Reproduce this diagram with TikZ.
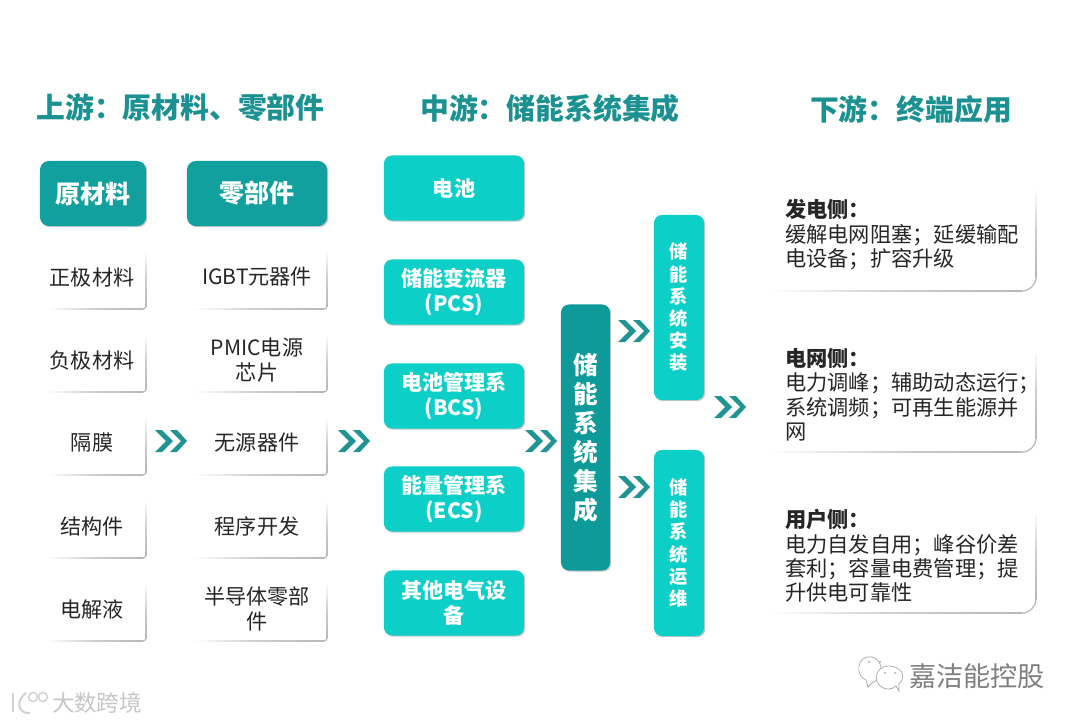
\documentclass[tikz,border=0pt]{standalone}
\usepackage{fontspec}
\setmainfont{Noto Sans CJK SC}
\usepackage{xcolor}
\usetikzlibrary{shadows}
\definecolor{titleteal}{HTML}{1C9191}
\definecolor{headteal}{HTML}{12A09E}
\definecolor{midcyan}{HTML}{0CCFC8}
\definecolor{coreteal}{HTML}{0F9A9A}
\definecolor{chevteal}{HTML}{1F9492}
\definecolor{edgegray}{HTML}{B8B8B8}
% corner x, corner y, height, width, radius
\newcommand{\cardcorner}[5]{
  \shade[top color=white,bottom color=edgegray,middle color=edgegray!70] (#1-0.6,#2-#3) rectangle (#1+0.6,#2-#5);
  \shade[left color=white,right color=edgegray,middle color=edgegray!70] (#1-#4,#2-0.6) rectangle (#1-#5,#2+0.6);
  \draw[edgegray,line width=0.85pt] (#1,#2-#5) .. controls (#1,#2-0.45*#5) and (#1-0.45*#5,#2) .. (#1-#5,#2);
}
\tikzset{
  boxshadow/.style={general shadow={shadow xshift=0.3mm,shadow yshift=-0.3mm,fill=black!30,opacity=0.7}},
  titletext/.style={text=titleteal,font=\fontsize{20.5}{24}\selectfont\bfseries,inner sep=0pt},
  headbox/.style={fill=headteal,text=white,rounded corners=2.2mm,boxshadow,font=\fontsize{17.8}{21}\selectfont\bfseries,minimum height=1.625cm},
  midbox/.style={fill=midcyan,text=white,rounded corners=2mm,boxshadow,font=\fontsize{15}{17.7}\selectfont\bfseries,minimum width=3.5cm,minimum height=1.625cm,align=center,inner sep=0pt},
  sidebox/.style={fill=midcyan,text=white,rounded corners=2mm,boxshadow,font=\fontsize{13}{15.8}\selectfont\bfseries,minimum width=1.25cm,align=center,inner sep=0pt},
  corebox/.style={fill=coreteal,text=white,rounded corners=2mm,boxshadow,font=\fontsize{17.5}{20.6}\selectfont\bfseries,minimum width=1.225cm,minimum height=6.65cm,align=center,inner sep=0pt},
  itemtext/.style={text=black!85,font=\fontsize{15}{17.5}\selectfont,align=center,inner sep=0pt},
  cardtext/.style={text=black!85,font=\fontsize{15.1}{17.4}\selectfont,align=left,inner sep=0pt,anchor=north west},
  stamp/.style={text=black!50,font=\fontsize{19.3}{22}\selectfont,inner sep=0pt},
  bubble/.style={draw=black!35,fill=white,line width=0.5pt},
  chevrons/.pic={
    \fill[chevteal] (-15,-11) -- (-8,-11) -- (3,0) -- (-8,11) -- (-15,11) -- (-4,0) -- cycle;
    \fill[chevteal] (0,-11) -- (7,-11) -- (17,0) -- (7,11) -- (0,11) -- (11,0) -- cycle;
  }
}
\begin{document}
\begin{tikzpicture}[x=0.025cm,y=-0.025cm]
\useasboundingbox (0,0) rectangle (1080,723);
\fill[white] (0,0) rectangle (1080,723);

\node[titletext] (titleup) at (180.5,108) {上游：原材料、零部件};
\node[titletext] (titlemid) at (550,109) {中游：储能系统集成};
\node[titletext] (titledown) at (911,109) {下游：终端应用};

\node[headbox,minimum width=2.65cm] (raw) at (93,193.5) {原材料};
\node[headbox,minimum width=3.5cm] (parts) at (257,193.5) {零部件};

\node[itemtext] (raw1) at (92,277) {正极材料};
\cardcorner{146}{309}{59}{100}{3}
\node[itemtext] (raw2) at (92,360) {负极材料};
\cardcorner{146}{392}{58}{100}{3}
\node[itemtext] (raw3) at (92,443) {隔膜};
\cardcorner{146}{475}{58}{100}{3}
\node[itemtext] (raw4) at (92,526) {结构件};
\cardcorner{146}{558}{58}{100}{3}
\node[itemtext] (raw5) at (92,609) {电解液};
\cardcorner{146}{641}{58}{100}{3}

\node[itemtext] (part1) at (257,277) {IGBT元器件};
\cardcorner{327}{309}{59}{135}{3}
\node[itemtext] (part2) at (257,360) {PMIC电源\\芯片};
\cardcorner{327}{392}{58}{135}{3}
\node[itemtext] (part3) at (257,443) {无源器件};
\cardcorner{327}{475}{58}{135}{3}
\node[itemtext] (part4) at (257,526) {程序开发};
\cardcorner{327}{558}{58}{135}{3}
\node[itemtext] (part5) at (257,609) {半导体零部\\件};
\cardcorner{327}{641}{58}{135}{3}

\node[midbox] (cell) at (454,188) {电池};
\node[midbox] (pcs) at (454,292) {储能变流器\\(PCS)};
\node[midbox] (bcs) at (454,396) {电池管理系\\(BCS)};
\node[midbox] (ecs) at (454,499) {能量管理系\\(ECS)};
\node[midbox] (other) at (454,603) {其他电气设\\备};

\node[corebox] (core) at (585.5,437.5) {储\\能\\系\\统\\集\\成};
\node[sidebox,minimum height=4.625cm] (install) at (679,307.5) {储\\能\\系\\统\\安\\装};
\node[sidebox,minimum height=4.65cm] (maintain) at (679,543) {储\\能\\系\\统\\运\\维};

\pic at (170,441) {chevrons};
\pic at (353,441) {chevrons};
\pic at (540,441) {chevrons};
\pic at (633,331) {chevrons};
\pic at (633,487) {chevrons};
\pic at (729,407) {chevrons};

\node[cardtext] (gen) at (785,199) {\textbf{发电侧：}\\缓解电网阻塞；延缓输配\\电设备；扩容升级};
\cardcorner{1036}{291}{103}{266}{14}
\node[cardtext] (grid) at (785,348) {\textbf{电网侧：}\\电力调峰；辅助动态运行；\\系统调频；可再生能源并\\网};
\cardcorner{1036}{452}{103}{266}{14}
\node[cardtext] (user) at (785,509) {\textbf{用户侧：}\\电力自发自用；峰谷价差\\套利；容量电费管理；提\\升供电可靠性};
\cardcorner{1036}{613}{103}{266}{14}

\filldraw[bubble] (866,680) -- (868,687) -- (873,682) .. controls (884,680) and (884,659) .. (872,657) .. controls (856,655) and (855,676) .. (866,680) -- cycle;
\filldraw[bubble] (896,686) -- (899,691) -- (899,684) .. controls (908,676) and (900,666) .. (889,666) .. controls (872,666) and (872,689) .. (889,689) .. controls (891,689) and (894,688) .. (896,686) -- cycle;
\fill[black!35] (869,662) circle (1) (880,662) circle (1) (885,673) circle (1) (895,673) circle (1);
\node[stamp] (brand) at (977,676) {嘉洁能控股};

\draw[black!18,line width=1.4pt] (13,693) -- (13,712);
\draw[black!18,line width=1.4pt] (26,693) .. controls (16,700) and (17,714) .. (30,713);
\draw[black!18,line width=1pt] (33,697) circle (4.5);
\draw[black!18,line width=1pt] (43,697) circle (4.5);
\node[stamp,text=black!22,font=\fontsize{16}{19}\selectfont] (wmark) at (97,703) {大数跨境};
\end{tikzpicture}
\end{document}
